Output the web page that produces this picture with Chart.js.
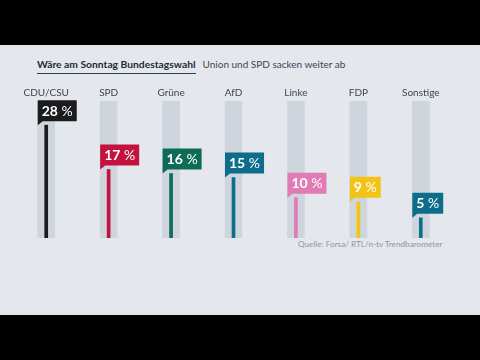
<!DOCTYPE html>
<html>
<head>
<meta charset="utf-8">
<script src="https://cdn.jsdelivr.net/npm/chart.js@4/dist/chart.umd.min.js"></script>
<style>
  html, body { margin:0; padding:0; width:480px; height:360px; background:#000; overflow:hidden; }
  #panel { position:absolute; left:0; top:45px; width:480px; height:270px; background:#e4e8ed; }
  #wrap { position:absolute; left:0; top:0; width:480px; height:360px; }
  #title { position:absolute; left:37px; top:58px; font-family:Lato, "DejaVu Sans", sans-serif; font-size:10.3px; white-space:nowrap; color:#1f2a36; }
  #title b { font-weight:700; display:inline-block; padding-bottom:3px; border-bottom:1.5px solid #2b3d55; }
  #title span { margin-left:7px; color:#3a4654; font-size:10px; }
  #source { position:absolute; left:298px; top:239px; font-family:Lato, "DejaVu Sans", sans-serif; font-size:8.2px; color:#8c96a1; white-space:nowrap; }
</style>
</head>
<body>
<div id="panel"></div>
<div id="title"><b>Wäre am Sonntag Bundestagswahl</b><span>Union und SPD sacken weiter ab</span></div>
<div id="source">Quelle: Forsa/ RTL/n-tv Trendbarometer</div>
<div id="wrap"><canvas id="c" width="480" height="360"></canvas></div>
<script>
const parties = ["CDU/CSU", "SPD", "Grüne", "AfD", "Linke", "FDP", "Sonstige"];
const shares = [28, 17, 16, 15, 10, 9, 5];
const trackValues = [34, 34, 34, 34, 34, 34, 34];
const partyColors = ["#1c1c1e", "#c4123e", "#0d6b58", "#0e6d8c", "#e07bb5", "#f2c417", "#0e6d8c"];
const scaleMax = 34;

const flagPlugin = {
  id: "flags",
  afterDatasetsDraw(chart) {
    const ctx = chart.ctx;
    const meta = chart.getDatasetMeta(0);
    meta.data.forEach((bar, i) => {
      const x = bar.x, yTop = bar.y;
      const left = x - 8.5;
      const bottom = yTop - 4;
      const h = 21;
      const num = String(shares[i]);
      ctx.save();
      ctx.font = "700 14px Lato, 'DejaVu Sans', sans-serif";
      const wNum = ctx.measureText(num).width;
      ctx.font = "400 14px Lato, 'DejaVu Sans', sans-serif";
      const wPct = ctx.measureText(" %").width;
      const w = wNum + wPct + 8;
      ctx.fillStyle = partyColors[i];
      ctx.beginPath();
      ctx.moveTo(left, bottom - h);
      ctx.lineTo(left + w, bottom - h);
      ctx.lineTo(left + w, bottom);
      ctx.lineTo(left + 5, bottom);
      ctx.lineTo(left, bottom + 4);
      ctx.closePath();
      ctx.fill();
      ctx.fillStyle = "#ffffff";
      ctx.textBaseline = "middle";
      ctx.textAlign = "left";
      ctx.font = "700 14px Lato, 'DejaVu Sans', sans-serif";
      ctx.fillText(num, left + 4, bottom - h / 2 + 0.5);
      ctx.font = "400 14px Lato, 'DejaVu Sans', sans-serif";
      ctx.fillText(" %", left + 4 + wNum, bottom - h / 2 + 0.5);
      ctx.restore();
    });
  }
};

new Chart(document.getElementById("c"), {
  type: "bar",
  data: {
    labels: parties,
    datasets: [
      { data: shares, backgroundColor: partyColors, barThickness: 3, grouped: false, order: 0 },
      { data: trackValues, backgroundColor: "#cfd5dc", barThickness: 17, grouped: false, order: 1 }
    ]
  },
  options: {
    responsive: false,
    animation: false,
    events: [],
    layout: { padding: { left: 15, right: 28, top: 80, bottom: 122 } },
    plugins: { legend: { display: false }, tooltip: { enabled: false } },
    scales: {
      x: {
        position: "top",
        grid: { display: false, drawTicks: false },
        border: { display: false },
        ticks: { color: "#3a4654", font: { family: "Lato, 'DejaVu Sans', sans-serif", size: 10 }, padding: 2, maxRotation: 0 },
        afterFit(s) { s.height = 21; }
      },
      y: { display: false, min: 0, max: scaleMax }
    }
  },
  plugins: [flagPlugin]
});
</script>
</body>
</html>
